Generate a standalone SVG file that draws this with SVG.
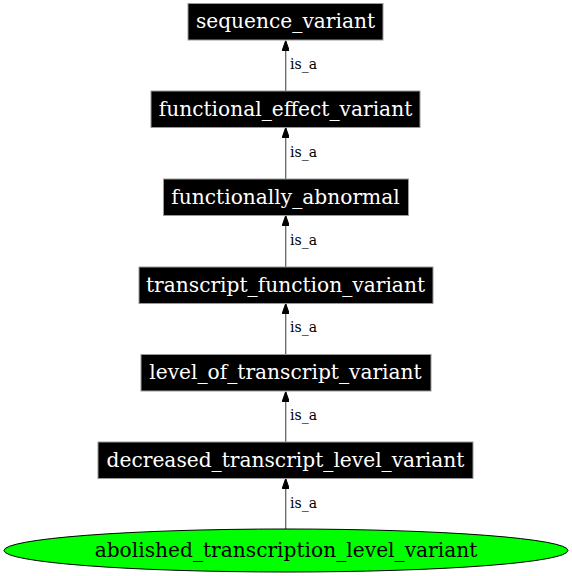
<svg xmlns="http://www.w3.org/2000/svg" width="572" height="576" viewBox="0 0 572 576">
<defs>
<marker id="arr" viewBox="0 0 10 7" refX="10" refY="3.5" markerWidth="10" markerHeight="7" markerUnits="userSpaceOnUse" orient="auto">
<path d="M0,0 L10,3.5 L0,7 Z" fill="#000" stroke="#000" stroke-width="1"/>
</marker>
<style>
.box{fill:#000;stroke:#999;stroke-width:1}
.nt{font-family:"DejaVu Serif",serif;font-size:20.2px;fill:#fff;text-anchor:middle}
.et{font-family:"DejaVu Serif",serif;font-size:14px;fill:#000}
.edge{stroke:#666;stroke-width:1.3;fill:none;marker-end:url(#arr)}
</style>
</defs>
<rect width="572" height="576" fill="#fff"/>
<g id="connectors">
<line class="edge" x1="285.7" y1="91" x2="285.7" y2="40.5"/>
<text class="et" x="290" y="69">is_a</text>
<line class="edge" x1="285.7" y1="179" x2="285.7" y2="127.5"/>
<text class="et" x="290" y="157">is_a</text>
<line class="edge" x1="285.7" y1="267" x2="285.7" y2="215.5"/>
<text class="et" x="290" y="245">is_a</text>
<line class="edge" x1="285.7" y1="354" x2="285.7" y2="303.5"/>
<text class="et" x="290" y="332">is_a</text>
<line class="edge" x1="285.7" y1="442" x2="285.7" y2="391.5"/>
<text class="et" x="290" y="420">is_a</text>
<line class="edge" x1="285.7" y1="529" x2="285.7" y2="478.5"/>
<text class="et" x="290" y="508">is_a</text>
</g>
<g id="sequence_variant">
<rect class="box" x="188" y="3.5" width="195" height="36.5"/>
<text class="nt" x="285.5" y="28">sequence_variant</text>
</g>
<g id="functional_effect_variant">
<rect class="box" x="151" y="91" width="269" height="36.5"/>
<text class="nt" x="285.5" y="115.5">functional_effect_variant</text>
</g>
<g id="functionally_abnormal">
<rect class="box" x="163.5" y="179" width="245" height="36.5"/>
<text class="nt" x="285.5" y="203.5">functionally_abnormal</text>
</g>
<g id="transcript_function_variant">
<rect class="box" x="139" y="267" width="294" height="36.5"/>
<text class="nt" x="285.5" y="291.5">transcript_function_variant</text>
</g>
<g id="level_of_transcript_variant">
<rect class="box" x="141" y="354.5" width="290" height="36.5"/>
<text class="nt" x="285.5" y="379">level_of_transcript_variant</text>
</g>
<g id="decreased_transcript_level_variant">
<rect class="box" x="98" y="442" width="375" height="36.5"/>
<text class="nt" x="285.5" y="466.5">decreased_transcript_level_variant</text>
</g>
<g id="abolished_transcription_level_variant">
<ellipse cx="286" cy="550.5" rx="282" ry="21.5" fill="#00ff00" stroke="#000" stroke-width="1"/>
<text class="nt" x="286" y="557" style="fill:#000">abolished_transcription_level_variant</text>
</g>
</svg>
